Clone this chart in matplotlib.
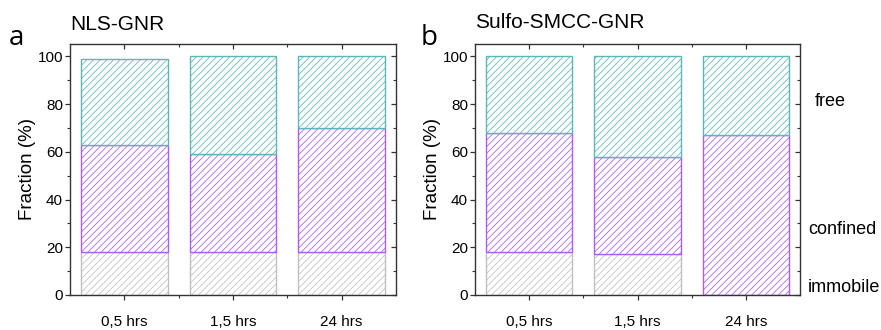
import matplotlib
matplotlib.use("Agg")
import matplotlib.pyplot as plt
from matplotlib.ticker import MultipleLocator, FixedLocator
import numpy as np

plt.rcParams['font.family'] = ['Liberation Sans', 'DejaVu Sans']
plt.rcParams['hatch.linewidth'] = 0.55

categories = ["0,5 hrs", "1,5 hrs", "24 hrs"]
series_names = ["immobile", "confined", "free"]

# panel a: NLS-GNR
a_immobile = [18, 18, 18]
a_confined = [45, 41, 52]
a_free = [36, 41, 30]

# panel b: Sulfo-SMCC-GNR
b_immobile = [18, 17, 0]
b_confined = [50, 41, 67]
b_free = [32, 42, 33]

colors = {"immobile": "#c0c0c0", "confined": "#ac5cfa", "free": "#5db6b6"}

fig = plt.figure(figsize=(8.81, 3.30), dpi=100)

def draw(ax, imm, conf, free):
    x = np.arange(1, len(categories) + 1)
    bottom = np.zeros(len(x))
    for name, vals in zip(series_names, [imm, conf, free]):
        vals = np.array(vals, dtype=float)
        ax.bar(x, vals, width=0.8, bottom=bottom, facecolor="white",
               edgecolor=colors[name], hatch="/////", linewidth=1.0, zorder=2)
        bottom = bottom + vals
    ax.set_xlim(0.5, 3.5)
    ax.set_ylim(0, 105.2)
    ax.set_xticks(x)
    ax.set_xticklabels(categories, fontsize=11)
    ax.xaxis.set_minor_locator(FixedLocator([1.5, 2.5]))
    ax.yaxis.set_major_locator(MultipleLocator(20))
    ax.yaxis.set_minor_locator(MultipleLocator(10))
    ax.tick_params(axis="y", which="both", labelsize=11, pad=1.5)
    ax.tick_params(axis="both", which="major", direction="out", length=3.5, width=0.9, color="#333333")
    ax.tick_params(axis="both", which="minor", direction="out", length=2.2, width=0.8, color="#333333")
    ax.tick_params(axis="x", which="major", pad=11)
    ax.tick_params(top=True, right=True, which="both")
    for spine in ax.spines.values():
        spine.set_color("#333333")
        spine.set_linewidth(1.0)
    ax.set_ylabel("Fraction (%)", fontsize=13.5, labelpad=1)

axa = fig.add_axes([70/881, 35/330, 326/881, 251/330])
draw(axa, a_immobile, a_confined, a_free)
axb = fig.add_axes([475/881, 35/330, 325/881, 251/330])
draw(axb, b_immobile, b_confined, b_free)

# inward ticks on top and right
for ax in (axa, axb):
    for tl in ax.xaxis.get_ticklines(minor=False)[1::2] + ax.xaxis.get_ticklines(minor=True)[1::2]:
        tl.set_marker(3)
    for tl in ax.yaxis.get_ticklines(minor=False)[1::2] + ax.yaxis.get_ticklines(minor=True)[1::2]:
        tl.set_marker(0)

fig.text(70/881, 1 - 25/330, "NLS-GNR", fontsize=15, ha="left", va="center")
fig.text(475/881, 1 - 22/330, "Sulfo-SMCC-GNR", fontsize=15, ha="left", va="center")
fig.text(9/881, 1 - 38/330, "a", fontsize=20, ha="left", va="center", family=["Open Sans", "DejaVu Sans"])
fig.text(421/881, 1 - 38/330, "b", fontsize=20, ha="left", va="center", family=["Open Sans", "DejaVu Sans"])

fig.text(815/881, 1 - 102/330, "free", fontsize=13, ha="left", va="center")
fig.text(808/881, 1 - 230/330, "confined", fontsize=13, ha="left", va="center")
fig.text(808/881, 1 - 287/330, "immobile", fontsize=13, ha="left", va="center")

fig.savefig("out.png", dpi=100)
